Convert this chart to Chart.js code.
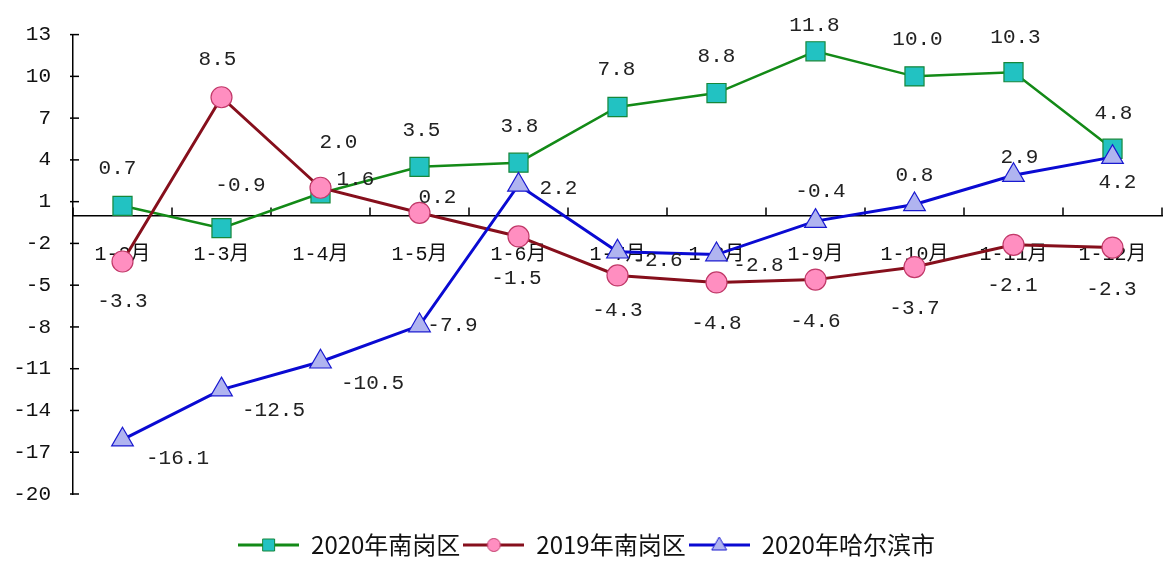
<!DOCTYPE html>
<html>
<head>
<meta charset="utf-8">
<script src="https://cdn.jsdelivr.net/npm/chart.js@4.4.1/dist/chart.umd.min.js"></script>
<style>
  html, body { margin: 0; padding: 0; background: #fff; }
  #wrap { width: 1164px; height: 561px; }
</style>
</head>
<body>
<div id="wrap"><canvas id="trendChart" width="1164" height="561"></canvas></div>
<script>
// 数据
const categories = ['1-2月', '1-3月', '1-4月', '1-5月', '1-6月', '1-7月', '1-8月', '1-9月', '1-10月', '1-11月', '1-12月'];
const nangang2020 = [0.7, -0.9, 1.6, 3.5, 3.8, 7.8, 8.8, 11.8, 10.0, 10.3, 4.8];
const nangang2019 = [-3.3, 8.5, 2.0, 0.2, -1.5, -4.3, -4.8, -4.6, -3.7, -2.1, -2.3];
const harbin2020 = [-16.1, -12.5, -10.5, -7.9, 2.2, -2.6, -2.8, -0.4, 0.8, 2.9, 4.2];
const yTicks = [-20, -17, -14, -11, -8, -5, -2, 1, 4, 7, 10, 13];

// 数据标签偏移 (像素, 相对数据点)
const shiftGreen = [[-5,-37],[19,-43],[35,-14],[2,-36],[1,-36],[-1,-38],[0,-37],[-1,-26],[3,-37],[2,-35],[1,-35]];
const shiftRed   = [[0,40],[-4,-38],[18,-45],[18,-15],[-2,42],[0,35],[0,41],[0,42],[0,41],[-1,41],[-1,42]];
const shiftBlue  = [[55,19],[52,21],[52,22],[33,0],[40,3],[40,9],[42,11],[5,-30],[0,-29],[6,-18],[5,25]];

const NUM_FONT = "'Liberation Mono', 'Noto Sans CJK SC', monospace";
const CJK_FONT = "'Noto Sans CJK SC', sans-serif";

const GREEN = '#138a17', GREEN_FILL = '#22c2c2';
const RED = '#860f1c', RED_FILL = '#ff8ec0';
const BLUE = '#0a0ad2', BLUE_FILL = '#b0b4f0';

function legendIcon(lineColor, fill, border, shape) {
    const c = document.createElement('canvas');
    c.width = 61; c.height = 20;
    const g = c.getContext('2d');
    g.strokeStyle = lineColor; g.lineWidth = 3;
    g.beginPath(); g.moveTo(0, 10); g.lineTo(61, 10); g.stroke();
    g.fillStyle = fill; g.strokeStyle = border; g.lineWidth = 1;
    g.beginPath();
    if (shape === 'rect') g.rect(24.5, 4, 12, 12);
    else if (shape === 'circle') g.arc(30.5, 10, 6.5, 0, Math.PI * 2);
    else { g.moveTo(30.5, 2); g.lineTo(38, 15); g.lineTo(23, 15); g.closePath(); }
    g.fill(); g.stroke();
    return c;
}

const shifts = [shiftGreen, shiftRed, shiftBlue];

const labelPlugin = {
    id: 'valueLabels',
    afterDatasetsDraw(chart) {
        const ctx = chart.ctx;
        ctx.save();
        ctx.font = '21px ' + NUM_FONT;
        ctx.fillStyle = '#222';
        ctx.textAlign = 'center';
        ctx.textBaseline = 'middle';
        chart.data.datasets.forEach((ds, i) => {
            chart.getDatasetMeta(i).data.forEach((pt, j) => {
                const s = shifts[i][j];
                ctx.fillText(ds.data[j].toFixed(1), pt.x + s[0], pt.y + s[1]);
            });
        });
        ctx.restore();
    }
};

// 刻度线: x 轴朝上, y 轴跨轴
const tickPlugin = {
    id: 'tickMarks',
    beforeDatasetsDraw(chart) {
        const x = chart.scales.x, y = chart.scales.y;
        const y0 = y.getPixelForValue(0);
        const ax = chart.chartArea.left;
        const ctx = chart.ctx;
        ctx.save();
        ctx.strokeStyle = '#000';
        ctx.lineWidth = 1.5;
        for (let i = 0; i <= categories.length; i++) {
            const px = x.getPixelForValue(i - 0.5);
            ctx.beginPath(); ctx.moveTo(px, y0); ctx.lineTo(px, y0 - 8); ctx.stroke();
        }
        yTicks.forEach(v => {
            const py = y.getPixelForValue(v);
            ctx.beginPath(); ctx.moveTo(ax - 3, py); ctx.lineTo(ax + 6, py); ctx.stroke();
        });
        ctx.restore();
    }
};

new Chart(document.getElementById('trendChart').getContext('2d'), {
    type: 'line',
    data: {
        labels: categories,
        datasets: [
            {
                label: '2020年南岗区',
                data: nangang2020,
                order: 2,
                borderColor: GREEN,
                borderWidth: 2.5,
                pointStyle: 'rect',
                pointRadius: 13.5,
                pointBackgroundColor: GREEN_FILL,
                pointBorderColor: '#16873a',
                pointBorderWidth: 1.2,
                tension: 0
            },
            {
                label: '2019年南岗区',
                data: nangang2019,
                order: 1,
                borderColor: RED,
                borderWidth: 3,
                pointStyle: 'circle',
                pointRadius: 10.5,
                pointBackgroundColor: RED_FILL,
                pointBorderColor: '#c23a6a',
                pointBorderWidth: 1.2,
                tension: 0
            },
            {
                label: '2020年哈尔滨市',
                data: harbin2020,
                order: 0,
                borderColor: BLUE,
                borderWidth: 3,
                pointStyle: 'triangle',
                pointRadius: 12.5,
                pointBackgroundColor: BLUE_FILL,
                pointBorderColor: '#1a1ad0',
                pointBorderWidth: 1.2,
                tension: 0
            }
        ]
    },
    options: {
        responsive: false,
        animation: false,
        layout: { autoPadding: false, padding: { top: 32, right: 2, left: 11, bottom: -6 } },
        plugins: {
            legend: {
                position: 'bottom',
                labels: {
                    color: '#111',
                    font: { size: 24, family: CJK_FONT },
                    usePointStyle: true,
                    pointStyleWidth: 61,
                    padding: 3,
                    generateLabels(chart) {
                        const icons = [
                            legendIcon(GREEN, GREEN_FILL, '#16873a', 'rect'),
                            legendIcon(RED, RED_FILL, '#c23a6a', 'circle'),
                            legendIcon(BLUE, BLUE_FILL, '#1a1ad0', 'triangle')
                        ];
                        return chart.data.datasets.map((ds, i) => ({
                            text: ds.label,
                            pointStyle: icons[i],
                            fillStyle: ds.pointBackgroundColor,
                            strokeStyle: ds.borderColor,
                            lineWidth: 0,
                            fontColor: '#111',
                            datasetIndex: i
                        }));
                    }
                }
            },
            tooltip: { enabled: false }
        },
        scales: {
            x: {
                type: 'category',
                position: { y: 0 },
                offset: true,
                grid: { display: false },
                border: { display: true, color: '#000', width: 1.5 },
                ticks: {
                    color: '#111',
                    font: { size: 20, family: NUM_FONT },
                    padding: 19,
                    maxRotation: 0,
                    autoSkip: false
                },
                afterFit(scale) { scale.paddingLeft = 0; scale.paddingRight = 0; }
            },
            // 底部留白, 使图例下移
            spacer: {
                type: 'category',
                position: 'bottom',
                labels: categories,
                grid: { display: false },
                border: { display: false },
                ticks: { display: false },
                afterFit(scale) { scale.height = 36; scale.paddingLeft = 0; scale.paddingRight = 0; }
            },
            y: {
                min: -20,
                max: 13,
                afterBuildTicks(scale) { scale.ticks = yTicks.map(v => ({ value: v })); },
                grid: { drawOnChartArea: false, drawTicks: false },
                border: { display: true, color: '#000', width: 1.5 },
                ticks: {
                    color: '#111',
                    font: { size: 21, family: NUM_FONT },
                    padding: 22
                },
                afterFit(scale) { scale.width = 62; }
            }
        }
    },
    plugins: [tickPlugin, labelPlugin]
});
</script>
</body>
</html>
